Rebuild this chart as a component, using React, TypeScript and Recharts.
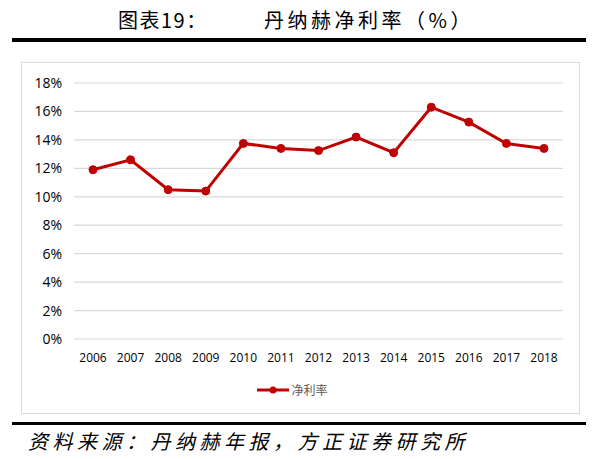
import { LineChart, Line, XAxis, YAxis, CartesianGrid, Legend } from "recharts"

const years = ["2006", "2007", "2008", "2009", "2010", "2011", "2012", "2013", "2014", "2015", "2016", "2017", "2018"]
const netMargin = [11.9, 12.6, 10.5, 10.4, 13.75, 13.4, 13.25, 14.2, 13.1, 16.3, 15.25, 13.75, 13.4]
const yTicks = [0, 2, 4, 6, 8, 10, 12, 14, 16, 18]

const RED = "#c00000"
const CJK = '"Noto Sans CJK SC", "Noto Sans", sans-serif'

const data = years.map((year, i) => ({ year, value: netMargin[i] }))

function LegendItem() {
  return (
    <div style={{ display: "flex", justifyContent: "center", alignItems: "center", paddingTop: 12 }}>
      <svg width={32} height={10}>
        <line x1={0} y1={5} x2={32} y2={5} stroke={RED} strokeWidth={3} />
        <circle cx={16} cy={5} r={3.5} fill={RED} />
      </svg>
      <span style={{ fontFamily: CJK, fontSize: 12, color: "#595959", marginLeft: 2 }}>净利率</span>
    </div>
  )
}

export default function App() {
  return (
    <div style={{ position: "absolute", left: 0, top: 0, width: 598, height: 459, background: "#fff" }}>
      {/* title */}
      <div style={{ position: "absolute", left: 118, top: 5, fontFamily: CJK, fontSize: 20, fontWeight: 400, color: "#000", letterSpacing: 1.5 }}>
        图表19：
      </div>
      <div style={{ position: "absolute", left: 264, top: 5, fontFamily: CJK, fontSize: 20, fontWeight: 400, color: "#000", letterSpacing: 3.5 }}>
        丹纳赫净利率（%）
      </div>
      <div style={{ position: "absolute", left: 12, top: 38, width: 574, height: 4, background: "#000" }} />

      {/* chart box */}
      <div style={{ position: "absolute", left: 21, top: 62, width: 557, height: 350, border: "1px solid #d9d9d9" }}>
        <LineChart width={557} height={350} data={data} margin={{ top: 20, right: 16, left: 0, bottom: 0 }}>
          <CartesianGrid vertical={false} stroke="#d9d9d9" strokeWidth={1.2} />
          <XAxis
            dataKey="year"
            axisLine={false}
            tickLine={false}
            height={30}
            interval={0}
            padding={{ left: 19, right: 19 }}
            tick={{ fontSize: 12, fill: "#000", fontFamily: '"Open Sans", sans-serif' }}
            tickMargin={8}
          />
          <YAxis
            domain={[0, 18]}
            ticks={yTicks}
            axisLine={false}
            tickLine={false}
            width={52}
            tickFormatter={(v: number) => `${v}%`}
            tick={{ fontSize: 14, fill: "#000", fontFamily: '"Open Sans", sans-serif' }}
            tickMargin={6}
          />
          <Legend verticalAlign="bottom" height={44} content={() => <LegendItem />} />
          <Line
            type="linear"
            dataKey="value"
            name="净利率"
            stroke={RED}
            strokeWidth={3}
            dot={{ r: 4, fill: RED, stroke: RED, strokeWidth: 1 }}
            isAnimationActive={false}
          />
        </LineChart>
      </div>

      {/* source */}
      <div style={{ position: "absolute", left: 12, top: 422, width: 574, height: 3, background: "#000" }} />
      <div style={{ position: "absolute", left: 28, top: 426, fontFamily: CJK, fontSize: 20, fontStyle: "italic", color: "#000", letterSpacing: 4.5 }}>
        资料来源：丹纳赫年报，方正证券研究所
      </div>
    </div>
  )
}
